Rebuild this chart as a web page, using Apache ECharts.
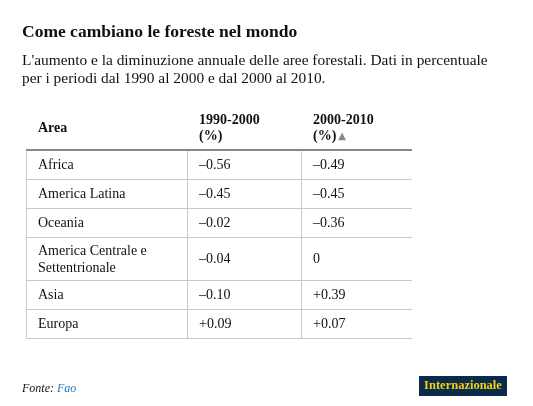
<!DOCTYPE html>
<html><head><meta charset="utf-8">
<script src="https://cdn.jsdelivr.net/npm/echarts@6/dist/echarts.min.js"></script>
<style>html,body{margin:0;padding:0;background:#fff}#c{width:533px;height:406px}</style>
</head><body><div id="c"></div>
<script>
const titleText = 'Come cambiano le foreste nel mondo';
const subtitleText = "L'aumento e la diminuzione annuale delle aree forestali. Dati in percentuale\nper i periodi dal 1990 al 2000 e dal 2000 al 2010.";
const headers = ['Area', '1990-2000\n(%)', '2000-2010\n(%)'];
const areas = ['Africa', 'America Latina', 'Oceania', 'America Centrale e\nSettentrionale', 'Asia', 'Europa'];
const v1990 = [-0.56, -0.45, -0.02, -0.04, -0.10, 0.09];
const v2000 = [-0.49, -0.45, -0.36, 0, 0.39, 0.07];
const sourceLabel = 'Fonte: ';
const sourceName = 'Fao';
const brand = 'Internazionale';

const FONT = '"Liberation Serif", "DejaVu Serif", serif';
function fmt(v) {
  if (v === 0) return '0';
  return (v < 0 ? '\u2013' : '+') + Math.abs(v).toFixed(2);
}
// layout (not data)
const colEdges = [0, 161, 275, 386];
const rowUnits = areas.map(a => a.indexOf('\n') >= 0 ? 1.5 : 1);
const headerUnits = 1.6;
const rowEdges = [0];
rowUnits.forEach(u => rowEdges.push(rowEdges[rowEdges.length - 1] + u));

const cells = [];
areas.forEach((a, r) => {
  cells.push([0, r, a]);
  cells.push([1, r, fmt(v1990[r])]);
  cells.push([2, r, fmt(v2000[r])]);
});
const headCells = headers.map((h, c) => [c, -1, h]);

const px = v => Math.round(v) + 0.5;

const chart = echarts.init(document.getElementById('c'), null, {renderer: 'canvas'});
chart.setOption({
  animation: false,
  backgroundColor: '#fff',
  title: {
    text: titleText,
    subtext: subtitleText,
    left: 22, top: 23, padding: 0,
    itemGap: 11,
    textStyle: {fontFamily: FONT, fontSize: 17.5, fontWeight: 'bold', color: '#111'},
    subtextStyle: {fontFamily: FONT, fontSize: 15.4, color: '#111', lineHeight: 18}
  },
  grid: {left: 26, right: 121, top: 104, bottom: 68},
  xAxis: {type: 'value', min: 0, max: colEdges[3], show: false},
  yAxis: {type: 'value', min: -headerUnits, max: rowEdges[rowEdges.length - 1], inverse: true, show: false},
  series: [
    {
      type: 'custom',
      data: headCells,
      clip: false,
      renderItem: function (params, api) {
        const c = api.value(0);
        const item = headCells[params.dataIndex];
        const p0 = api.coord([colEdges[c], -headerUnits]);
        const p1 = api.coord([colEdges[c + 1], 0]);
        const children = [];
        const isLast = c === 2;
        children.push({
          type: 'text',
          style: {
            x: p0[0] + 12, y: (p0[1] + p1[1]) / 2 + 1,
            text: isLast ? '{b|2000-2010}\n{b|(%)}{t|▲}' : item[2],
            rich: {b: {fontFamily: FONT, fontSize: 14, fontWeight: 'bold', fill: '#111', lineHeight: 16},
                   t: {fontFamily: 'DejaVu Sans', fontSize: 10, fill: '#888', lineHeight: 16, padding: [0,0,0,2]}},
            fontFamily: FONT, fontSize: 14, fontWeight: 'bold', fill: '#111', lineHeight: 16,
            verticalAlign: 'middle', align: 'left'
          }
        });
        if (c === 0) {
          const pe = api.coord([colEdges[3], 0]);
          children.push({type: 'line', shape: {x1: p0[0], y1: Math.round(p1[1]), x2: pe[0], y2: Math.round(p1[1])},
            style: {stroke: '#888', lineWidth: 2}});
        }
        return {type: 'group', children: children};
      }
    },
    {
      type: 'custom',
      data: cells,
      clip: false,
      renderItem: function (params, api) {
        const c = api.value(0), r = api.value(1);
        const item = cells[params.dataIndex];
        const p0 = api.coord([colEdges[c], rowEdges[r]]);
        const p1 = api.coord([colEdges[c + 1], rowEdges[r + 1]]);
        return {
          type: 'group',
          children: [
            {type: 'line', shape: {x1: p0[0], y1: px(p1[1]), x2: p1[0], y2: px(p1[1])}, style: {stroke: '#c8c8c8', lineWidth: 1}},
            {type: 'line', shape: {x1: px(p0[0]), y1: p0[1] + 1, x2: px(p0[0]), y2: p1[1]}, style: {stroke: '#c8c8c8', lineWidth: 1}},
            {type: 'text', style: {
              x: p0[0] + 12, y: (p0[1] + p1[1]) / 2 + 1,
              text: item[2], fontFamily: FONT, fontSize: 14, fill: '#111', lineHeight: 17,
              verticalAlign: 'middle', align: 'left'
            }}
          ]
        };
      }
    }
  ],
  graphic: [
    {type: 'text', left: 22, top: 383,
     style: {text: '{a|' + sourceLabel + '}{f|' + sourceName + '}',
       rich: {a: {fontFamily: FONT, fontStyle: 'italic', fontSize: 12, fill: '#111'},
              f: {fontFamily: FONT, fontStyle: 'italic', fontSize: 12, fill: '#2878b8'}}}},
    {type: 'group', left: 419, top: 376, children: [
      {type: 'rect', shape: {x: 0, y: 0, width: 88, height: 20}, style: {fill: '#0c2a4b'}},
      {type: 'text', x: 44, y: 10, style: {text: brand, fontFamily: FONT, fontWeight: 'bold', fontSize: 12.5,
        fill: '#f2d20c', align: 'center', verticalAlign: 'middle'}}
    ]}
  ]
});
</script></body></html>
